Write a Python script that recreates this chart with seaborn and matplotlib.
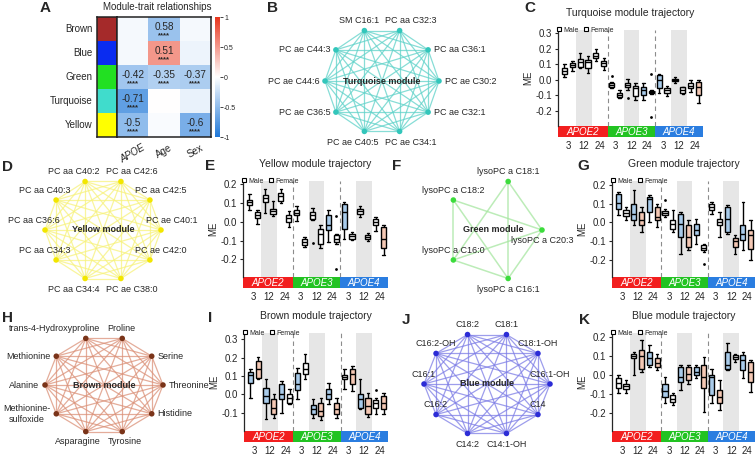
import itertools
import numpy as np
import pandas as pd
import matplotlib
matplotlib.use("Agg")
import matplotlib.pyplot as plt
import seaborn as sns
from matplotlib import transforms
from matplotlib.colors import LinearSegmentedColormap, ListedColormap
from matplotlib.lines import Line2D
from matplotlib.patches import Rectangle

# ---------------- data ----------------
modules = ["Brown", "Blue", "Green", "Turquoise", "Yellow"]
module_colors = ["#a52a2a", "#0a2cf0", "#22e022", "#40dccc", "#ffff00"]
traits = ["APOE", "Age", "Sex"]
# colour value of each cell (as shown) and the printed text
trait_corr = [[-0.04, -0.45, -0.04],
              [-0.04, 0.51, -0.08],
              [-0.42, -0.35, -0.37],
              [-0.71, 0.0, -0.10],
              [-0.50, -0.03, -0.60]]
trait_text = [["", "0.58", ""],
              ["", "0.51", ""],
              ["-0.42", "-0.35", "-0.37"],
              ["-0.71", "", ""],
              ["-0.5", "", "-0.6"]]

turq_nodes = ["PC ae C30:2", "PC aa C36:1", "PC aa C32:3", "SM C16:1", "PC ae C44:3",
              "PC ae C44:6", "PC ae C36:5", "PC ae C40:5", "PC ae C34:1", "PC ae C32:1"]
yellow_nodes = ["PC ae C40:1", "PC aa C42:5", "PC aa C42:6", "PC aa C40:2", "PC aa C40:3",
                "PC aa C36:6", "PC aa C34:3", "PC aa C34:4", "PC ae C38:0", "PC ae C42:0"]
green_nodes = ["lysoPC a C20:3", "lysoPC a C18:1", "lysoPC a C18:2", "lysoPC a C16:0", "lysoPC a C16:1"]
green_missing = [(1, 2)]
brown_nodes = ["Threonine", "Serine", "Proline", "trans-4-Hydroxyproline", "Methionine",
               "Alanine", "Methionine-\nsulfoxide", "Asparagine", "Tyrosine", "Histidine"]
blue_nodes = ["C16:1-OH", "C18:1-OH", "C18:1", "C18:2", "C16:2-OH",
              "C16:1", "C16:2", "C14:2", "C14:1-OH", "C14"]

genotypes = ["APOE2", "APOE3", "APOE4"]
ages = ["3", "12", "24"]
sexes = ["Male", "Female"]

# boxes: (min, q1, median, q3, max) for APOE2/3/4 x age 3/12/24 x Male/Female
turq_boxes = [(0.021, 0.038, 0.058, 0.075, 0.100), (0.058, 0.085, 0.096, 0.111, 0.124),
              (0.075, 0.085, 0.115, 0.133, 0.171), (0.047, 0.075, 0.115, 0.128, 0.150),
              (0.118, 0.139, 0.154, 0.171, 0.197), (0.064, 0.090, 0.107, 0.118, 0.139),
              (-0.054, -0.043, -0.033, -0.022, -0.011), (-0.118, -0.108, -0.095, -0.082, -0.065),
              (-0.065, -0.048, -0.033, -0.018, 0.004), (-0.130, -0.103, -0.054, -0.039, -0.022),
              (-0.130, -0.097, -0.065, -0.048, -0.022), (-0.090, -0.085, -0.078, -0.070, -0.065),
              (-0.086, -0.054, 0.000, 0.032, 0.038), (-0.103, -0.086, -0.065, -0.054, -0.039),
              (-0.018, -0.009, 0.000, 0.008, 0.021), (-0.090, -0.082, -0.065, -0.048, -0.044),
              (-0.075, -0.054, -0.039, -0.022, 0.000), (-0.146, -0.097, -0.048, -0.011, 0.000)]
turq_fill = "wwwwww" "wwwwbw" "bwwwws"
turq_out = [(6, 0.025), (8, -0.118), (11, 0.038), (11, -0.240)]

yellow_boxes = [(0.065, 0.088, 0.106, 0.118, 0.147), (-0.013, 0.022, 0.038, 0.052, 0.065),
                (0.047, 0.106, 0.129, 0.141, 0.177), (0.029, 0.043, 0.056, 0.070, 0.111),
                (0.100, 0.111, 0.136, 0.154, 0.177), (-0.028, -0.001, 0.022, 0.034, 0.058),
                (0.004, 0.035, 0.049, 0.061, 0.083), (-0.131, -0.125, -0.108, -0.093, -0.081),
                (0.008, 0.017, 0.035, 0.052, 0.075), (-0.138, -0.116, -0.067, -0.036, -0.019),
                (-0.108, -0.045, -0.019, 0.035, 0.061), (-0.116, -0.108, -0.090, -0.072, -0.063),
                (-0.090, -0.036, 0.052, 0.097, 0.106), (-0.099, -0.090, -0.077, -0.067, -0.054),
                (0.026, 0.040, 0.058, 0.070, 0.083), (-0.104, -0.093, -0.081, -0.068, -0.060),
                (-0.049, -0.019, -0.001, 0.017, 0.026), (-0.175, -0.138, -0.090, -0.028, -0.019)]
yellow_fill = "wwwwww" "wwwwbw" "bwwwws"
yellow_out = [(8, -0.113), (11, 0.029), (11, -0.250)]

green_boxes = [(0.038, 0.073, 0.105, 0.152, 0.161), (0.011, 0.033, 0.052, 0.068, 0.082),
               (-0.015, 0.011, 0.047, 0.100, 0.170), (-0.050, -0.015, 0.011, 0.056, 0.082),
               (0.003, 0.056, 0.126, 0.135, 0.144), (-0.024, 0.011, 0.029, 0.082, 0.100),
               (0.029, 0.038, 0.050, 0.061, 0.073), (-0.050, -0.033, -0.010, 0.011, 0.064),
               (-0.165, -0.077, -0.006, 0.047, 0.055), (-0.147, -0.130, -0.077, -0.015, 0.011),
               (-0.112, -0.068, -0.041, -0.006, 0.020), (-0.156, -0.147, -0.133, -0.121, -0.112),
               (0.047, 0.064, 0.082, 0.100, 0.108), (-0.077, -0.015, 0.003, 0.020, 0.055),
               (-0.059, -0.050, 0.020, 0.082, 0.091), (-0.165, -0.130, -0.100, -0.080, -0.068),
               (-0.147, -0.094, -0.059, -0.015, 0.108), (-0.200, -0.138, -0.068, -0.041, 0.011)]
green_fill = "bwbsbs" "wwbsbw" "wwbsbs"
green_out = [(6, 0.117), (11, -0.218)]

brown_boxes = [(-0.018, 0.064, 0.104, 0.122, 0.140), (0.085, 0.091, 0.136, 0.182, 0.205),
               (-0.136, -0.045, -0.009, 0.036, 0.082), (-0.127, -0.109, -0.073, -0.027, 0.000),
               (-0.100, -0.027, 0.000, 0.055, 0.073), (-0.055, -0.045, -0.022, 0.000, 0.027),
               (-0.027, 0.024, 0.055, 0.118, 0.145), (0.082, 0.109, 0.136, 0.169, 0.218),
               (-0.127, -0.109, -0.082, -0.060, -0.027), (-0.140, -0.118, -0.091, -0.049, -0.018),
               (-0.055, -0.027, 0.004, 0.027, 0.064), (-0.127, -0.109, -0.078, -0.045, -0.018),
               (0.031, 0.082, 0.093, 0.104, 0.136), (0.018, 0.055, 0.109, 0.136, 0.155),
               (-0.082, -0.073, -0.027, 0.000, 0.082), (-0.122, -0.109, -0.064, -0.018, 0.009),
               (-0.109, -0.073, -0.049, -0.033, -0.018), (-0.109, -0.082, -0.045, -0.009, 0.009)]
brown_fill = "bsbsbw" "bwbsbs" "wsbsws"
brown_out = [(16, 0.024)]

blue_boxes = [(-0.098, -0.067, -0.042, -0.019, -0.002), (-0.095, -0.077, -0.060, -0.046, -0.028),
              (-0.002, 0.091, 0.100, 0.112, 0.121), (0.016, 0.033, 0.098, 0.130, 0.182),
              (0.042, 0.051, 0.086, 0.121, 0.156), (0.025, 0.042, 0.060, 0.086, 0.112),
              (-0.151, -0.116, -0.084, -0.046, -0.011), (-0.160, -0.142, -0.125, -0.107, -0.098),
              (-0.081, -0.037, -0.011, 0.042, 0.051), (-0.046, -0.028, 0.004, 0.042, 0.051),
              (-0.019, -0.002, 0.016, 0.042, 0.051), (-0.195, -0.072, -0.014, 0.051, 0.095),
              (-0.151, -0.107, -0.014, -0.002, 0.033), (-0.186, -0.151, -0.116, -0.081, -0.028),
              (0.025, 0.033, 0.051, 0.121, 0.165), (0.068, 0.081, 0.095, 0.104, 0.112),
              (-0.019, 0.025, 0.077, 0.104, 0.121), (-0.089, -0.037, 0.016, 0.068, 0.077)]
blue_fill = "wwwsbs" "bwbsbs" "bsbwbs"
blue_out = []

# ---------------- style ----------------
sns.set_theme(style="ticks")
plt.rcParams["font.family"] = ["Liberation Sans", "DejaVu Sans"]
plt.rcParams["axes.linewidth"] = 0.9

fill_colors = {"w": "white", "b": "#a9cbea", "s": "#f4c8b4"}
genotype_colors = ["#f21f1f", "#22c322", "#2a7de0"]

W, H = 756, 455
fig = plt.figure(figsize=(W / 100, H / 100), dpi=100)


def px_axes(left, top, right, bottom):
    return fig.add_axes([left / W, 1 - bottom / H, (right - left) / W, (bottom - top) / H])


def letter(x, y, s):
    fig.text(x / W, 1 - y / H, s, fontsize=11, fontweight="bold", ha="left", va="center")


# ---------------- A: module-trait heatmap ----------------
strip_ax = px_axes(97, 17, 117, 137)
heat_ax = px_axes(117, 17, 211, 137)
cbar_ax = px_axes(215, 17, 220, 137)

sns.heatmap(np.arange(len(modules))[:, None], ax=strip_ax, cmap=ListedColormap(module_colors),
            cbar=False, xticklabels=False, yticklabels=modules)
strip_ax.tick_params(axis="y", length=0, labelsize=7, rotation=0, pad=3)

trait_cmap = LinearSegmentedColormap.from_list("bwr_soft", ["#1f78d8", "#ffffff", "#e8341c"])
corr_df = pd.DataFrame(trait_corr, index=modules, columns=traits)
sns.heatmap(corr_df, ax=heat_ax, cmap=trait_cmap, vmin=-1, vmax=1, cbar_ax=cbar_ax,
            yticklabels=False)
for i in range(len(modules)):
    for j in range(len(traits)):
        if trait_text[i][j]:
            heat_ax.text(j + 0.5, i + 0.42, trait_text[i][j], ha="center", va="center", fontsize=7.2)
            heat_ax.text(j + 0.5, i + 0.8, "****", ha="center", va="center", fontsize=5.5,
                         fontweight="bold")
heat_ax.set_xticklabels(traits, rotation=30, fontsize=7, ha="center")
heat_ax.get_xticklabels()[0].set_style("italic")
heat_ax.tick_params(axis="x", length=0, pad=4)
heat_ax.set_xlabel("")
for a in (strip_ax, heat_ax):
    for s in a.spines.values():
        s.set_visible(True)
        s.set_linewidth(1.1)
        s.set_color("#222222")
cbar_ax.set_yticks([-1, -0.5, 0, 0.5, 1])
cbar_ax.set_yticklabels(["-1", "-0.5", "0", "0.5", "1"])
cbar_ax.tick_params(labelsize=5, length=2, width=0.6, pad=1)
fig.text(157 / W, 1 - 7 / H, "Module-trait relationships", fontsize=7, ha="center", va="center")


# ---------------- network panels ----------------
def draw_network(cx, cy, rx, ry, names, node_color, edge_color, title, mode,
                 missing=(), below=(7, 8), edge_alpha=0.75, edge_lw=0.9, shift=0.25):
    ax = px_axes(cx - 1.8 * rx, cy - 1.5 * ry, cx + 1.8 * rx, cy + 1.5 * ry)
    ax.set_xlim(-1.8, 1.8)
    ax.set_ylim(-1.5, 1.5)
    ax.axis("off")
    ax.patch.set_visible(False)
    n = len(names)
    ang = np.deg2rad(np.arange(n) * 360 / n)
    xs, ys = np.cos(ang), np.sin(ang)
    for i, j in itertools.combinations(range(n), 2):
        if (i, j) in missing:
            continue
        ax.plot([xs[i], xs[j]], [ys[i], ys[j]], color=edge_color, lw=edge_lw,
                alpha=edge_alpha, zorder=1, solid_capstyle="round")
    sns.scatterplot(x=xs, y=ys, ax=ax, color=node_color, s=16, edgecolor="none",
                    zorder=3, legend=False)
    for k, name in enumerate(names):
        c = np.cos(ang[k])
        if mode == "side" and abs(c) > 0.5:
            if c > 0:
                ax.text(xs[k] + 0.1, ys[k], name, ha="left", va="center", fontsize=6.5)
            else:
                ax.text(xs[k] - 0.1, ys[k], name, ha="right", va="center", fontsize=6.5,
                        multialignment="center")
            continue
        if mode in ("side", "above_out") and abs(c) > 0.01:
            ha = "left" if c > 0 else "right"
            tx = xs[k] - shift if c > 0 else xs[k] + shift
        else:
            ha, tx = "center", xs[k]
        if k in below:
            ax.text(tx, ys[k] - 0.12, name, ha=ha, va="top", fontsize=6.5)
        else:
            ax.text(tx, ys[k] + 0.1, name, ha=ha, va="bottom", fontsize=6.5)
    ax.text(0, 0, title, ha="center", va="center", fontsize=6.5, fontweight="bold", zorder=4)
    return ax


# ---------------- trajectory panels ----------------
def draw_trajectory(rect, boxes, fills, outliers, title, ylim, yticks):
    ax = px_axes(*rect)
    ids = [f"b{i:02d}" for i in range(len(boxes))]
    df = pd.DataFrame([(ids[i], v) for i, b in enumerate(boxes) for v in b], columns=["box", "ME"])
    palette = {ids[i]: fill_colors[c] for i, c in enumerate(fills)}
    for g in range(3):
        ax.axvspan(g * 6 + 1.5, g * 6 + 3.5, color="#e6e6e6", lw=0, zorder=0)
    sns.boxplot(data=df, x="box", y="ME", hue="box", order=ids, hue_order=ids, palette=palette,
                legend=False, width=0.65, whis=(0, 100), linecolor="black", linewidth=1.0,
                saturation=1, ax=ax)
    if outliers:
        ox, oy = zip(*outliers)
        ax.scatter(ox, oy, s=4, color="black", zorder=4, linewidths=0)
    for xv in (5.5, 11.5):
        ax.axvline(xv, color="#8c8c8c", ls=(0, (4, 3)), lw=0.8, zorder=0.5)
    x0, x1 = -0.8, 17.55
    ax.set_xlim(x0, x1)
    ax.set_ylim(*ylim)
    trans = transforms.blended_transform_factory(ax.transData, ax.transAxes)
    edges = [x0, 5.5, 11.5, x1]
    for g in range(3):
        ax.add_patch(Rectangle((edges[g], -0.115), edges[g + 1] - edges[g], 0.115, transform=trans,
                               color=genotype_colors[g], clip_on=False, lw=0))
        ax.text((edges[g] + edges[g + 1]) / 2, -0.058, genotypes[g], transform=trans, ha="center",
                va="center", color="white", style="italic", fontsize=7)
    ax.set_xticks([g * 6 + a * 2 + 0.5 for g in range(3) for a in range(3)])
    ax.set_xticklabels(ages * 3)
    ax.tick_params(axis="x", length=0, pad=11, labelsize=7)
    ax.set_yticks(yticks)
    ax.set_yticklabels([f"{v:.1f}" for v in yticks])
    ax.tick_params(axis="y", length=2.5, width=0.8, labelsize=7, pad=1.5)
    ax.set_xlabel("")
    ax.set_ylabel("ME", fontsize=7, labelpad=2)
    for s in ("top", "right", "bottom"):
        ax.spines[s].set_visible(False)
    ax.spines["left"].set_linewidth(0.9)
    handles = [Line2D([], [], marker="s", ls="", mfc="white", mec="black", mew=0.8, ms=3.5, label=s)
               for s in sexes]
    ax.legend(handles=handles, loc="lower left", bbox_to_anchor=(-0.005, 0.96), ncol=2,
              frameon=False, fontsize=5, handlelength=0.6, handletextpad=0.25,
              columnspacing=0.8, borderpad=0, borderaxespad=0)
    ax.set_title(title, fontsize=7.5, pad=10)
    return ax


# row 1
draw_network(382, 81, 57, 53, turq_nodes, "#33c6bb", "#5fd2c9", "Turquoise module", "side")
draw_trajectory((558, 30, 703, 126), turq_boxes, turq_fill, turq_out,
                "Turquoise module trajectory", (-0.296, 0.32), [0.3, 0.2, 0.1, 0.0, -0.1, -0.2])

# row 2
draw_network(103, 230, 58, 51, yellow_nodes, "#f2e600", "#f7f27c", "Yellow module", "above_out")
draw_trajectory((243, 181, 388, 277), yellow_boxes, yellow_fill, yellow_out,
                "Yellow module trajectory", (-0.293, 0.217), [0.2, 0.1, 0.0, -0.1, -0.2])
draw_network(493, 230, 49, 51, green_nodes, "#3cdc3c", "#a6e6a0", "Green module", "above",
             missing=green_missing, below=(0, 4), edge_lw=1.1)
draw_trajectory((612, 181, 755, 277), green_boxes, green_fill, green_out,
                "Green module trajectory", (-0.288, 0.219), [0.2, 0.1, 0.0, -0.1, -0.2])

# row 3
draw_network(104, 385, 59, 49, brown_nodes, "#7a3419", "#db9178", "Brown module", "side")
draw_trajectory((244, 333, 388, 431), brown_boxes, brown_fill, brown_out,
                "Brown module trajectory", (-0.2, 0.335), [0.3, 0.2, 0.1, 0.0, -0.1])
draw_network(487, 384, 63, 52, blue_nodes, "#2c2cd6", "#7d7de6", "Blue module", "above")
draw_trajectory((612, 333, 755, 431), blue_boxes, blue_fill, blue_out,
                "Blue module trajectory", (-0.296, 0.22), [0.2, 0.1, 0.0, -0.1, -0.2])

for x, y, s in [(40, 8, "A"), (267, 8, "B"), (524, 8, "C"), (2, 167, "D"), (205, 166, "E"),
                (392, 166, "F"), (577, 166, "G"), (2, 318, "H"), (208, 318, "I"), (402, 320, "J"),
                (579, 320, "K")]:
    letter(x, y, s)

fig.savefig("out.png", dpi=100)
